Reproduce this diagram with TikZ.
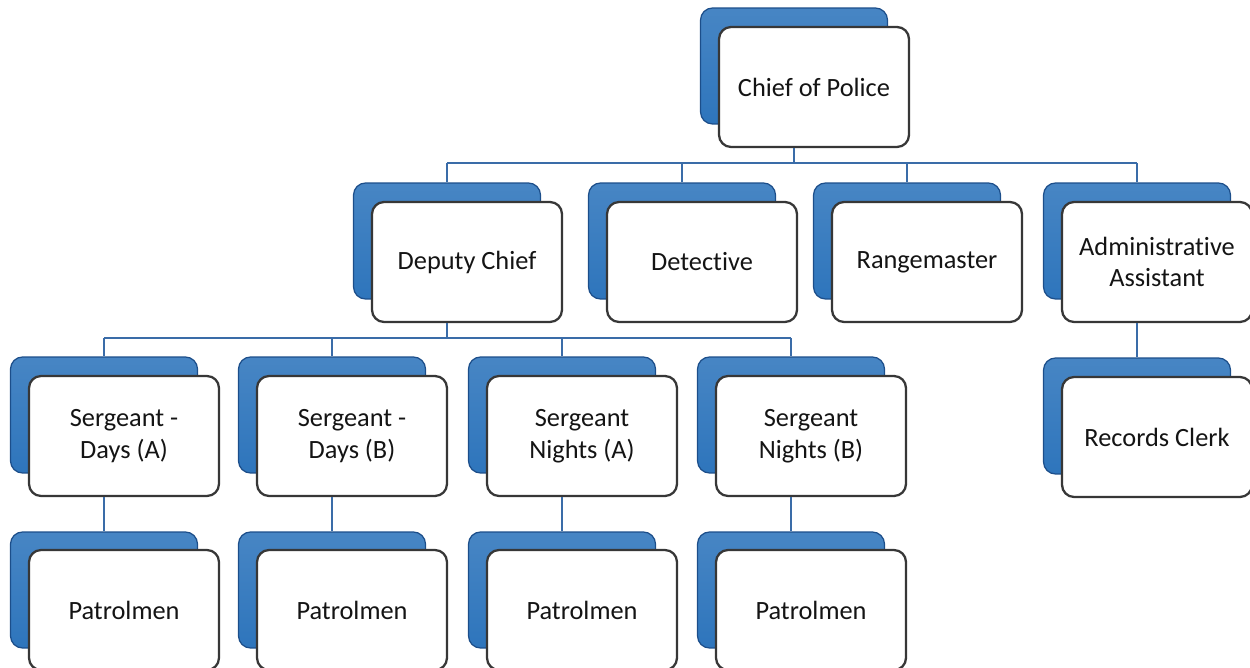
\documentclass[tikz,border=0pt]{standalone}
\usepackage{fontspec}
\setmainfont{Carlito}[RawFeature={-liga;-clig;-calt}]
\definecolor{cardblue}{RGB}{46,117,188}
\definecolor{cardedge}{RGB}{28,78,138}
\definecolor{linkblue}{RGB}{58,108,168}
\definecolor{frameink}{RGB}{55,55,55}

\begin{document}
\begin{tikzpicture}[
    x=0.02cm, y=-0.02cm,
    back/.style = {rectangle, rounded corners=0.24cm, draw=cardedge,
                   top color=cardblue!88!white, bottom color=cardblue,
                   line width=0.7pt,
                   minimum width=3.74cm, minimum height=2.32cm},
    card/.style = {rectangle, rounded corners=0.24cm, draw=frameink,
                   fill=white, line width=1.3pt,
                   minimum width=3.8cm, minimum height=2.4cm,
                   align=center, text=black!92,
                   font=\fontsize{15}{18}\selectfont},
    link/.style = {draw=linkblue, line width=1.4pt},
    every node/.style = {inner sep=0pt},
  ]
  \useasboundingbox (0,0) rectangle (1250,668);
  % top
  \node[back] (chief-back) at (794,66)  {};
  \node[card] (chief)      at (814,87)  {Chief of Police};
  % second row
  \node[back] (dep-back) at (447,241)  {};
  \node[card] (dep)      at (467,262)  {Deputy Chief};
  \node[back] (det-back) at (682,241)  {};
  \node[card] (det)      at (702,262)  {Detective};
  \node[back] (rng-back) at (907,241)  {};
  \node[card] (rng)      at (927,262)  {Rangemaster};
  \node[back] (adm-back) at (1137,241) {};
  \node[card] (adm)      at (1157,262) {Administrative\\Assistant};
  % sergeants and records
  \node[back] (sa-back)  at (104,415)  {};
  \node[card] (sa)       at (124,436)  {Sergeant -\\Days (A)};
  \node[back] (sb-back)  at (332,415)  {};
  \node[card] (sb)       at (352,436)  {Sergeant -\\Days (B)};
  \node[back] (na-back)  at (562,415)  {};
  \node[card] (na)       at (582,436)  {Sergeant\\Nights (A)};
  \node[back] (nb-back)  at (791,415)  {};
  \node[card] (nb)       at (811,436)  {Sergeant\\Nights (B)};
  \node[back] (rec-back) at (1137,416) {};
  \node[card] (rec)      at (1157,437) {Records Clerk};
  % patrol row
  \node[back] (pa-back)  at (104,590)  {};
  \node[card] (pa)       at (124,610)  {Patrolmen};
  \node[back] (pb-back)  at (332,590)  {};
  \node[card] (pb)       at (352,610)  {Patrolmen};
  \node[back] (pc-back)  at (562,590)  {};
  \node[card] (pc)       at (582,610)  {Patrolmen};
  \node[back] (pd-back)  at (791,590)  {};
  \node[card] (pd)       at (811,610)  {Patrolmen};
  % connectors
  \coordinate (bus1) at (0,163);
  \coordinate (bus2) at (0,338);
  \draw[link] (chief-back.center |- chief.south) -- (chief-back.center |- bus1);
  \draw[link] (dep-back.center |- bus1) -- (adm-back.center |- bus1);
  \foreach \n in {dep,det,rng,adm}
    \draw[link] (\n-back.center |- bus1) -- (\n-back.north);
  \draw[link] (dep-back.center |- dep.south) -- (dep-back.center |- bus2);
  \draw[link] (sa-back.center |- bus2) -- (nb-back.center |- bus2);
  \foreach \n in {sa,sb,na,nb}
    \draw[link] (\n-back.center |- bus2) -- (\n-back.north);
  \foreach \n/\m in {sa/pa,sb/pb,na/pc,nb/pd,adm/rec}
    \draw[link] (\n-back.center |- \n.south) -- (\m-back.north);
\end{tikzpicture}
\end{document}
